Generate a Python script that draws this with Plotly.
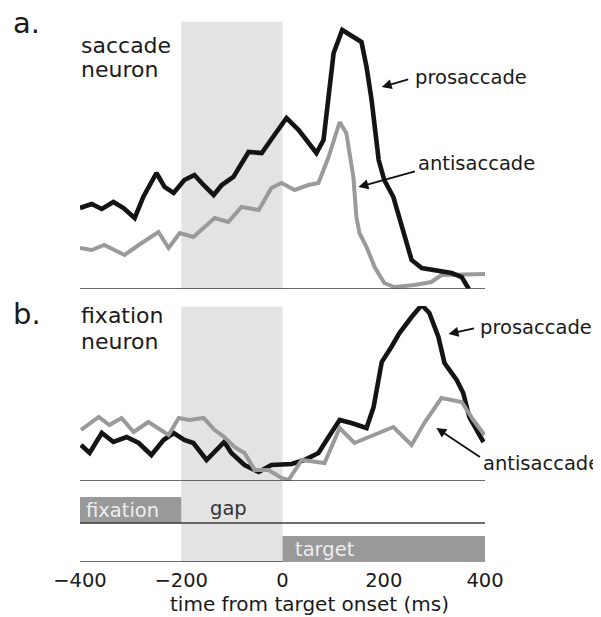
import plotly.graph_objects as go

# ---------------- data (time in ms from target onset, activity in arbitrary units) ----
# a. saccade neuron
SACC_PRO_T = [-400, -377, -357, -334, -314, -292, -275, -249, -233, -215, -194, -174, -156,
              -136, -120, -97, -67, -41, -16, 8, 32, 67, 81, 91, 101, 118, 138, 156, 166,
              176, 190, 201, 219, 239, 255, 275, 300, 334, 354, 368]
SACC_PRO_A = [81, 85, 80, 87, 81, 71, 92, 116, 102, 96, 109, 114, 104, 94, 104, 112, 137,
              136, 154, 171, 159, 136, 149, 189, 236, 259, 252, 247, 222, 189, 129, 109, 92,
              56, 29, 21, 19, 16, 12, 0]
SACC_ANTI_T = [-400, -377, -352, -332, -312, -284, -245, -225, -203, -176, -134, -107, -81,
               -47, -22, -2, 24, 51, 71, 91, 113, 126, 140, 146, 152, 166, 182, 201, 221,
               261, 294, 314, 400]
SACC_ANTI_A = [41, 39, 44, 39, 34, 44, 57, 41, 56, 52, 71, 67, 82, 79, 101, 106, 99, 104,
               106, 132, 167, 156, 112, 72, 56, 42, 22, 6, 2, 4, 7, 14, 15]

# b. fixation neuron
FIX_PRO_T = [-398, -381, -357, -334, -308, -284, -259, -235, -215, -194, -176, -150, -115,
             -101, -75, -47, -22, 18, 43, 71, 91, 113, 136, 166, 180, 196, 215, 231, 255,
             275, 290, 308, 320, 344, 357, 369, 397]
FIX_PRO_A = [36, 28, 48, 39, 44, 38, 26, 41, 48, 41, 38, 21, 39, 28, 16, 9, 16, 17, 21, 28,
             44, 61, 58, 53, 74, 119, 134, 148, 164, 176, 168, 144, 118, 101, 88, 64, 39]
FIX_ANTI_T = [-398, -363, -342, -318, -294, -265, -225, -205, -184, -156, -134, -115, -95,
              -75, -55, -28, -2, 12, 38, 83, 113, 142, 190, 219, 255, 280, 314, 354, 377, 399]
FIX_ANTI_A = [51, 64, 56, 63, 49, 59, 46, 63, 61, 63, 51, 44, 34, 28, 11, 11, 3, 1, 21, 18,
              53, 38, 48, 54, 36, 58, 83, 79, 61, 46]

# task epochs
GAP_START, GAP_END = -200, 0
EPOCH_LABELS = ["fixation", "target"]
EPOCH_START = [-400, 0]
EPOCH_END = [-200, 400]
XTICKS = [-400, -200, 0, 200, 400]

# ---------------- styling ----------------
FONT = "DejaVu Sans"
BLACK = "#141414"
GRAY = "#9a9a9a"
SHADE = "#e3e3e3"
BASE = "#3a3a3a"
BAR = "#999999"

# layout geometry: the page body has an 8 px margin, so the figure is offset by 8 px.
W, H = 601, 617
OFF = 8
PW, PH = 405, 542            # plot area size
ML, MT = 80 - OFF, 20 - OFF  # plot area at page px 80..485 / 20..562
MR = W - ML - PW
MB = H - MT - PH


def py(p):  # page pixel y -> paper
    return (562 - p) / PH


def px(p):  # page pixel x -> paper
    return (p - 80) / PW


fig = go.Figure()

# traces
fig.add_trace(go.Scatter(x=SACC_ANTI_T, y=SACC_ANTI_A, mode="lines", xaxis="x", yaxis="y",
                         line=dict(color=GRAY, width=4), showlegend=False))
fig.add_trace(go.Scatter(x=SACC_PRO_T, y=SACC_PRO_A, mode="lines", xaxis="x", yaxis="y",
                         line=dict(color=BLACK, width=4.6), showlegend=False))
fig.add_trace(go.Scatter(x=FIX_PRO_T, y=FIX_PRO_A, mode="lines", xaxis="x", yaxis="y2",
                         line=dict(color=BLACK, width=4.6), showlegend=False))
fig.add_trace(go.Scatter(x=FIX_ANTI_T, y=FIX_ANTI_A, mode="lines", xaxis="x", yaxis="y2",
                         line=dict(color=GRAY, width=4), showlegend=False))

# epoch bars (timeline)
ROW_Y = [1.926, 0.48]
fig.add_trace(go.Bar(orientation="h", y=ROW_Y,
                     x=[e - s for s, e in zip(EPOCH_START, EPOCH_END)],
                     base=EPOCH_START, width=0.963, xaxis="x", yaxis="y3",
                     marker=dict(color=BAR, line=dict(width=0)), showlegend=False,
                     hoverinfo="skip"))

shapes = [
    # gap shading
    dict(type="rect", xref="x", yref="y", x0=GAP_START, x1=GAP_END, y0=0, y1=267.3,
         fillcolor=SHADE, line=dict(width=0), layer="below"),
    dict(type="rect", xref="x", yref="paper", x0=GAP_START, x1=GAP_END, y0=0, y1=py(306.5),
         fillcolor=SHADE, line=dict(width=0), layer="below"),
    # baselines
    dict(type="line", xref="paper", yref="y", x0=0, x1=1, y0=0, y1=0,
         line=dict(color=BASE, width=1.5)),
    dict(type="line", xref="paper", yref="y2", x0=0, x1=1, y0=0, y1=0,
         line=dict(color=BASE, width=1.5)),
    dict(type="line", xref="paper", yref="y3", x0=0, x1=1, y0=1.444, y1=1.444,
         line=dict(color=BASE, width=1.5)),
    dict(type="line", xref="x", yref="y3", x0=-400, x1=0, y0=0, y1=0,
         line=dict(color=BASE, width=1.5), layer="below"),
]

ann = []


def text(x, y, s, size, color="#1a1a1a", xanchor="left", xref="paper", yref="paper", **kw):
    ann.append(dict(x=x, y=y, xref=xref, yref=yref, text=s, showarrow=False,
                    xanchor=xanchor, yanchor="middle",
                    font=dict(family=FONT, size=size, color=color), **kw))


def arrow(xh, yh, yref, ax, ay):
    ann.append(dict(x=xh, y=yh, xref="x", yref=yref, text="", showarrow=True,
                    ax=ax, ay=ay, axref="pixel", ayref="pixel", arrowhead=2,
                    arrowsize=1.1, arrowwidth=1.8, arrowcolor="#111111"))


# panel letters and titles
text(px(11), py(23), "a.", 29)
text(px(11), py(314), "b.", 29)
text(px(79), py(45), "saccade", 22)
text(px(79), py(69), "neuron", 22)
text(px(79), py(315), "fixation", 22)
text(px(79), py(342), "neuron", 22)

# trace labels + arrows
text(px(413), py(77), "prosaccade", 19.5)
text(px(416), py(163), "antisaccade", 19.5)
text(px(478), py(327), "prosaccade", 19.5)
text(px(481), py(463), "antisaccade", 19.5)
arrow(196, 202, "y", 28, -8)
arrow(150, 102, "y", 58, -16)
arrow(328, 147, "y2", 27, -6)
arrow(304, 53, "y2", 45, 30)

# epoch texts
text(EPOCH_START[0], ROW_Y[0], EPOCH_LABELS[0], 19.5, color="#eeeeee", xref="x", yref="y3",
     xshift=4)
text(EPOCH_START[1], ROW_Y[1], EPOCH_LABELS[1], 19.5, color="#eeeeee", xref="x", yref="y3",
     xshift=10)
text((GAP_START + GAP_END) / 2 - 7, 2.0, "gap", 19.5, color="#333333", xanchor="center",
     xref="x", yref="y3")

# x-axis title
text(px(309.5), py(604), "time from target onset (ms)", 20, xanchor="center")

fig.update_layout(
    width=W, height=H,
    margin=dict(l=ML, r=MR, t=MT, b=MB),
    paper_bgcolor="white", plot_bgcolor="white",
    showlegend=False,
    shapes=shapes, annotations=ann,
    xaxis=dict(range=[-400, 400], domain=[0, 1], anchor="y3", tickvals=XTICKS,
               showgrid=False, zeroline=False, showline=False, ticks="",
               tickfont=dict(family=FONT, size=19.5, color="#1a1a1a"),
               ticklabelstandoff=4, fixedrange=True),
    yaxis=dict(domain=[py(289), 1], range=[0, 269], visible=False, fixedrange=True),
    yaxis2=dict(domain=[py(481), py(306)], range=[0, 175], visible=False, fixedrange=True),
    yaxis3=dict(domain=[0, py(481)], range=[0, 3], visible=False, fixedrange=True),
)

fig.write_html("out.html")
